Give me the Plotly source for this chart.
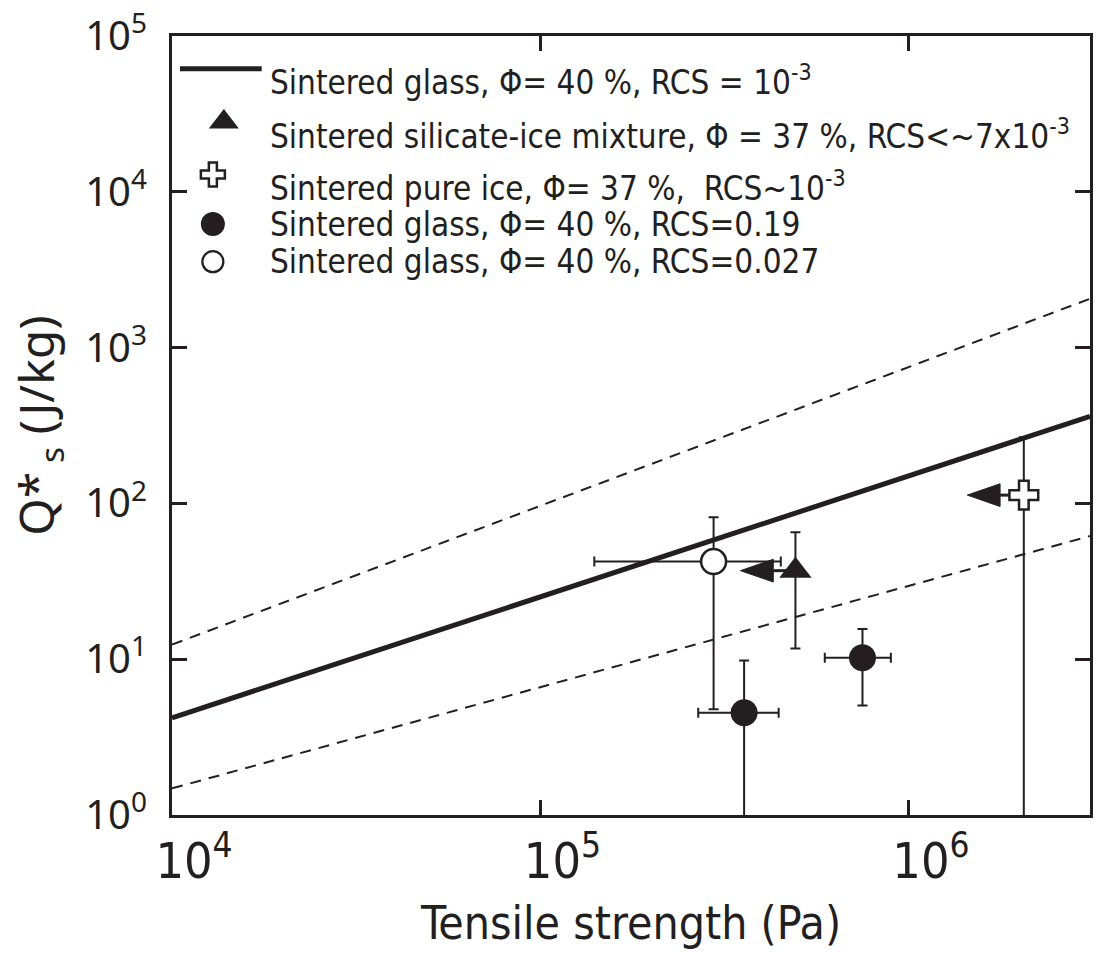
import numpy as np
import plotly.graph_objects as go

# ---------------- data ----------------
model_x = [1e4, 3.1e6]
glass_rcs_1e3 = [4.2, 362]          # solid line
band_upper = [12.4, 2060]           # dashed upper
band_lower = [1.48, 61.7]           # dashed lower

glass019_x = [3.57e5, 7.48e5]
glass019_y = [4.53, 10.2]
glass019_y_hi = [9.8, 15.6]
glass019_y_lo = [0.3, 5.04]
glass019_x_lo = [2.68e5, 5.91e5]
glass019_x_hi = [4.43e5, 8.93e5]

glass0027_x = [2.95e5]
glass0027_y = [42.3]
glass0027_y_hi = [81.4]
glass0027_y_lo = [4.76]
glass0027_x_lo = [1.40e5]
glass0027_x_hi = [4.49e5]

mix_x = [4.92e5]
mix_y = [37.0]
mix_y_hi = [65.2]
mix_y_lo = [11.7]
mix_arrow_tip = [3.49e5]

ice_x = [2.05e6]
ice_y = [113.0]
ice_y_hi = [266.0]
ice_y_lo = [0.3]
ice_arrow_tip = [1.44e6]

legend_labels = [
    "Sintered glass, \u03a6= 40 %, RCS = 10<sup>-3</sup>",
    "Sintered silicate-ice mixture, \u03a6 = 37 %, RCS<~7x10<sup>-3</sup>",
    "Sintered pure ice, \u03a6= 37 %,  RCS~10<sup>-3</sup>",
    "Sintered glass, \u03a6= 40 %, RCS=0.19",
    "Sintered glass, \u03a6= 40 %, RCS=0.027",
]

x_ticks = [1e4, 1e5, 1e6]
x_ticktext = ["10<sup>4</sup>", "10<sup>5</sup>", "10<sup>6</sup>"]
y_ticks = [1, 10, 100, 1e3, 1e4, 1e5]
y_ticktext = ["10<sup>%d</sup>" % i for i in range(6)]

INK = "#231f20"
NARROW = "DejaVu Sans Condensed, Liberation Sans Narrow, sans-serif"
ROUND = "Noto Sans, Open Sans, sans-serif"

def plus(v, hi):
    return [h - a for a, h in zip(v, hi)]

def minus(v, lo):
    return [a - l for a, l in zip(v, lo)]

fig = go.Figure()

# model lines
fig.add_trace(go.Scatter(x=model_x, y=band_upper, mode="lines",
                         line=dict(color=INK, width=2, dash="11px,8px"), showlegend=False))
fig.add_trace(go.Scatter(x=model_x, y=band_lower, mode="lines",
                         line=dict(color=INK, width=2, dash="11px,8px"), showlegend=False))
fig.add_trace(go.Scatter(x=model_x, y=glass_rcs_1e3, mode="lines",
                         line=dict(color=INK, width=5), showlegend=False))

# arrows (upper limits on tensile strength)
HEAD_LEN = 0.089   # decades in x
HEAD_HALF = 0.073  # decades in y
for px, py, tip in [(mix_x[0], mix_y[0], mix_arrow_tip[0]), (ice_x[0], ice_y[0], ice_arrow_tip[0])]:
    base = tip * 10 ** HEAD_LEN
    fig.add_trace(go.Scatter(x=[base, px], y=[py, py], mode="lines",
                             line=dict(color=INK, width=3), showlegend=False))
    fig.add_trace(go.Scatter(x=[tip, base, base, tip], y=[py, py * 10 ** HEAD_HALF, py / 10 ** HEAD_HALF, py],
                             mode="lines", fill="toself", fillcolor=INK,
                             line=dict(color=INK, width=1), showlegend=False))

eb = dict(type="data", symmetric=False, color=INK, thickness=2, width=5)

fig.add_trace(go.Scatter(
    x=glass0027_x, y=glass0027_y, mode="markers",
    marker=dict(symbol="circle", size=25, color="white", line=dict(color=INK, width=2.5)),
    error_y=dict(eb, array=plus(glass0027_y, glass0027_y_hi), arrayminus=minus(glass0027_y, glass0027_y_lo)),
    error_x=dict(eb, array=plus(glass0027_x, glass0027_x_hi), arrayminus=minus(glass0027_x, glass0027_x_lo)),
    showlegend=False))

fig.add_trace(go.Scatter(
    x=glass019_x, y=glass019_y, mode="markers",
    marker=dict(symbol="circle", size=27, color=INK),
    error_y=dict(eb, array=plus(glass019_y, glass019_y_hi), arrayminus=minus(glass019_y, glass019_y_lo)),
    error_x=dict(eb, array=plus(glass019_x, glass019_x_hi), arrayminus=minus(glass019_x, glass019_x_lo)),
    showlegend=False))

fig.add_trace(go.Scatter(
    x=mix_x, y=mix_y, mode="markers",
    marker=dict(symbol="triangle-up", size=28, color=INK),
    error_y=dict(eb, array=plus(mix_y, mix_y_hi), arrayminus=minus(mix_y, mix_y_lo)),
    showlegend=False))

fig.add_trace(go.Scatter(
    x=ice_x, y=ice_y, mode="markers",
    marker=dict(symbol="cross", size=24, color="white", line=dict(color=INK, width=2.5)),
    error_y=dict(eb, array=plus(ice_y, ice_y_hi), arrayminus=minus(ice_y, ice_y_lo)),
    showlegend=False))

# ---------------- custom legend (keys drawn on an overlay axis in plot-fraction units) ----------------
PW, PH, L, T = 921.0, 787.0, 172.0, 28.0
def px2paper(x, y):
    return (x - L) / PW, (T + PH - y) / PH

text_rows_y = [73, 128, 180, 218, 256]
annotations = []
for lab, ry in zip(legend_labels, text_rows_y):
    xp, yp = px2paper(268, ry)
    annotations.append(dict(xref="paper", yref="paper", x=xp, y=yp, xanchor="left", yanchor="middle",
                            text=lab, showarrow=False, font=dict(family=NARROW, size=33, color=INK)))

key_styles = [
    (224, 115, dict(symbol="triangle-up", size=26, color=INK)),
    (213, 168, dict(symbol="cross", size=20, color="white", line=dict(color=INK, width=2.5))),
    (213, 218, dict(symbol="circle", size=24, color=INK)),
    (213, 256, dict(symbol="circle", size=21, color="white", line=dict(color=INK, width=2.2))),
]
for kx, ky, mk in key_styles:
    xp, yp = px2paper(kx, ky)
    fig.add_trace(go.Scatter(x=[xp], y=[yp], xaxis="x2", yaxis="y2", mode="markers",
                             marker=mk, showlegend=False, hoverinfo="skip"))

x0p, y0p = px2paper(180, 61)
x1p, _ = px2paper(262, 61)
shapes = [dict(type="line", xref="paper", yref="paper", x0=x0p, x1=x1p, y0=y0p, y1=y0p,
               line=dict(color=INK, width=5))]

fig.update_layout(
    width=1096, height=953,
    margin=dict(l=172, r=3, t=28, b=138),
    paper_bgcolor="white", plot_bgcolor="white",
    showlegend=False,
    annotations=annotations, shapes=shapes,
    xaxis=dict(type="log", range=[4, np.log10(3.1e6)], tickvals=x_ticks, ticktext=x_ticktext,
               ticks="inside", ticklen=15, tickwidth=3, tickcolor=INK,
               showline=True, linewidth=3, linecolor=INK, mirror="ticks",
               showgrid=False, zeroline=False, ticklabelshift=22, ticklabelstandoff=0,
               ticklabeloverflow="allow",
               tickfont=dict(family=NARROW, size=50, color=INK),
               title=dict(text="Tensile strength (Pa)", font=dict(family=NARROW, size=46, color=INK), standoff=18)),
    yaxis=dict(type="log", range=[-0.0005, 5.0005], tickvals=y_ticks, ticktext=y_ticktext,
               ticks="inside", ticklen=15, tickwidth=3, tickcolor=INK,
               showline=True, linewidth=3, linecolor=INK, mirror="ticks",
               showgrid=False, zeroline=False, ticklabelstandoff=14,
               ticklabeloverflow="allow",
               tickfont=dict(family=ROUND, size=40, color=INK),
               title=dict(text="Q*<sub> s</sub> (J/kg)", font=dict(family=ROUND, size=48, color=INK), standoff=16)),
    xaxis2=dict(range=[0, 1], overlaying="x", visible=False, fixedrange=True),
    yaxis2=dict(range=[0, 1], overlaying="y", visible=False, fixedrange=True),
)

fig.write_html("out.html")
